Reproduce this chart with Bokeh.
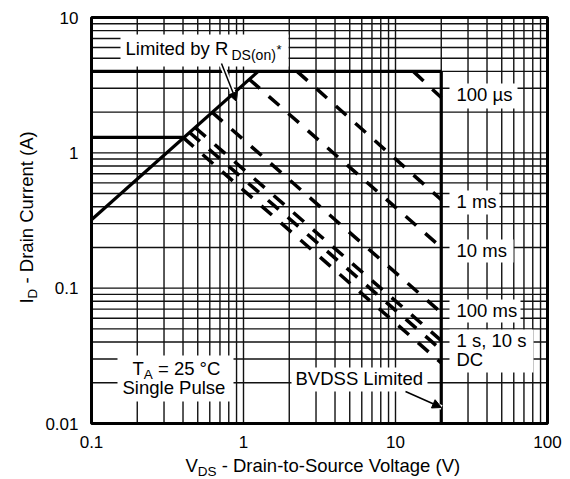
import math
from bokeh.plotting import figure
from bokeh.models import (Label, BoxAnnotation, Arrow, NormalHead,
                          Range1d, ColumnDataSource)
from bokeh.core.properties import value
from bokeh.embed import file_html
from bokeh.resources import INLINE

# ---------------- data ----------------
x_major = [0.1, 1, 10, 100]
x_tick_labels = ["0.1", "1", "10", "100"]
y_major = [0.01, 0.1, 1, 10]
y_tick_labels = ["0.01", "0.1", "1", "10"]

# boundaries (V, A)
rds_v = [0.1, 1.25]
rds_i = [0.32, 4.0]
pulse_lim_v = [0.1, 20]
pulse_lim_i = [4.0, 4.0]
dc_lim_v = [0.1, 0.40]
dc_lim_i = [1.3, 1.3]
bvdss_v = [20, 20]
bvdss_i = [4.0, 0.01]

# SOA lines: start / end points (V, A)
soa_names = ["100 µs", "1 ms", "10 ms", "100 ms", "1 s", "10 s", "DC"]
soa_v_start = [13.1, 2.25, 1.09, 0.62, 0.48, 0.44, 0.40]
soa_i_start = [4.0, 4.0, 3.5, 2.0, 1.54, 1.42, 1.3]
soa_v_end = [20, 20, 20, 20, 20, 20, 20]
soa_i_end = [2.56, 0.45, 0.20, 0.066, 0.041, 0.035, 0.028]

# ---------------- geometry (page pixels of the plot box) ----------------
W, H = 570, 479
FX0, FX1 = 91, 547
FY0, FY1 = 17, 423
FONT = "Liberation Sans"
NB = "\u00a0"
BASE_FIX = 0.37   # label baseline correction, in font sizes

XLO, XHI = x_major[0], x_major[-1]
YLO, YHI = y_major[0], y_major[-1]
XDEC = math.log10(XHI / XLO)
YDEC = math.log10(YHI / YLO)


def X(px):
    return XLO * 10 ** (XDEC * (px - FX0) / (FX1 - FX0))


def Y(py):
    return YHI * 10 ** (-YDEC * (py - FY0) / (FY1 - FY0))


p = figure(width=W, height=H, x_axis_type="log", y_axis_type="log",
           x_range=Range1d(X(0), X(W)), y_range=Range1d(Y(H), Y(0)),
           output_backend="svg", toolbar_location=None,
           x_axis_location=None, y_axis_location=None, min_border=0)
p.background_fill_color = "white"
p.border_fill_color = "white"
p.outline_line_color = None
p.grid.visible = False

# ---------------- grid & frame ----------------
x_grid = [k * 10.0 ** e for e in range(-1, 2) for k in range(1, 10)] + [XHI]
y_grid = [k * 10.0 ** e for e in range(-2, 1) for k in range(1, 10)] + [YHI]
p.segment(x0=x_grid, y0=[YLO] * len(x_grid), x1=x_grid, y1=[YHI] * len(x_grid),
          line_color="#111111", line_width=1.4)
p.segment(x0=[XLO] * len(y_grid), y0=y_grid, x1=[XHI] * len(y_grid), y1=y_grid,
          line_color="#111111", line_width=1.4)
p.quad(left=[XLO], right=[XHI], bottom=[YLO], top=[YHI], fill_color=None,
       line_color="black", line_width=3)

# tick labels
p.text(x=x_major, y=[Y(441)] * len(x_major), text=x_tick_labels,
       text_font=value(FONT), text_font_size="17px", text_color="black",
       text_align="center", text_baseline="middle")
p.text(x=[X(78)] * len(y_major), y=y_major, text=y_tick_labels,
       text_font=value(FONT), text_font_size="17px", text_color="black",
       text_align="right", text_baseline="middle")

# ---------------- curves ----------------
for vx, iy in ((rds_v, rds_i), (pulse_lim_v, pulse_lim_i),
               (dc_lim_v, dc_lim_i), (bvdss_v, bvdss_i)):
    p.line(vx, iy, line_width=3.2, line_color="black")

src = ColumnDataSource(dict(
    xs=[[a, b] for a, b in zip(soa_v_start, soa_v_end)],
    ys=[[a, b] for a, b in zip(soa_i_start, soa_i_end)],
    name=soa_names))
p.multi_line("xs", "ys", source=src, line_width=3.5, line_dash="14 12",
             line_color="black")


# ---------------- annotations ----------------
def box(l, r, t, b):
    p.add_layout(BoxAnnotation(left=X(l), right=X(r), top=Y(t), bottom=Y(b),
                               fill_color="white", fill_alpha=1.0,
                               line_color=None))


def lab(px, py, text, size=18.5, angle=0.0):
    if angle == 0.0:
        py = py - BASE_FIX * size
    else:
        px = px - BASE_FIX * size
    p.add_layout(Label(x=X(px), y=Y(py), text=text, text_font=FONT,
                       text_font_size=f"{size}px", text_color="black",
                       text_baseline="alphabetic", text_align="left",
                       angle=angle))


def arrow(x0, y0, x1, y1):
    p.add_layout(Arrow(x_start=X(x0), y_start=Y(y0), x_end=X(x1), y_end=Y(y1),
                       line_color="white", line_width=5, end=None))
    p.add_layout(Arrow(x_start=X(x0), y_start=Y(y0), x_end=X(x1), y_end=Y(y1),
                       line_color="black", line_width=1.5,
                       end=NormalHead(size=9, fill_color="black",
                                      line_color="black", line_width=1)))


# white boxes behind the texts
box(120, 288, 34, 66)
box(449, 517, 83, 108)
box(449, 499, 190, 214)
box(449, 513, 239, 262)
box(449, 520, 299, 322)
box(449, 533, 329, 372)
box(291, 427, 367, 391)
box(117, 233, 355, 401)

# Limited by RDS(on)*
lab(125, 55, "Limited by R")
lab(231, 60, "DS(on)", 14)
lab(276, 54, "*", 13)
arrow(221, 63, 236, 101)

# pulse labels
lab(456, 101, soa_names[0])
lab(456, 208, soa_names[1])
lab(456, 257, soa_names[2])
lab(456, 317, soa_names[3])
lab(456, 347, soa_names[4] + ", " + soa_names[5])
lab(456, 366, soa_names[6])

# BVDSS
lab(295, 385, "BVDSS Limited")
arrow(405, 391, 441, 407)

# TA = 25 °C / Single Pulse
lab(132, 375, "T")
lab(143.3, 379, "A", 13.5)
lab(152.3, 375, NB + "= 25 °C")
lab(122, 394, "Single Pulse")

# axis titles
lab(185, 472, "V")
lab(197.3, 476, "DS", 13.5)
lab(216, 472, NB + "- Drain-to-Source Voltage (V)")

lab(33, 303, "I", angle=math.pi / 2)
lab(37, 297.9, "D", 13.5, angle=math.pi / 2)
lab(33, 288.1, NB + "- Drain Current (A)", angle=math.pi / 2)

open("out.html", "w").write(file_html(p, INLINE))
